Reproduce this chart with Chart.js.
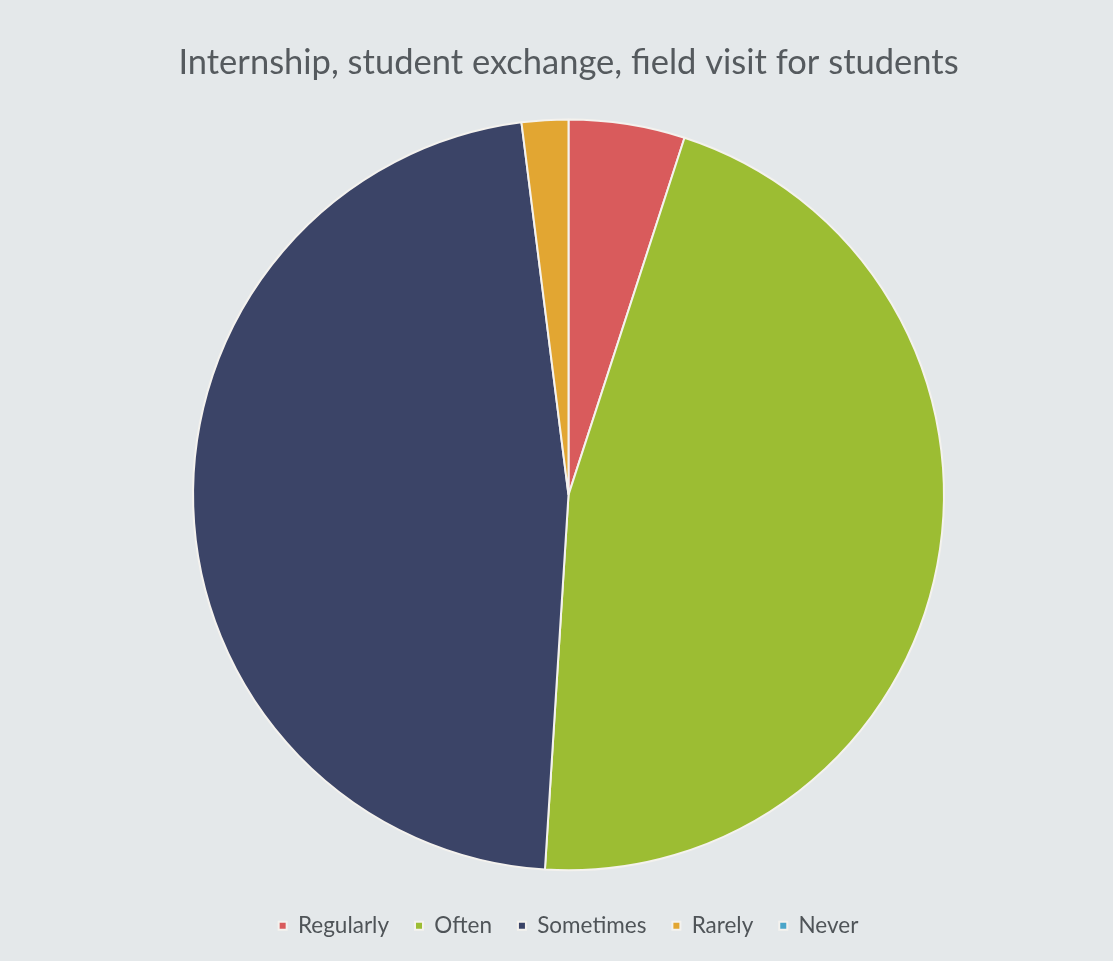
<!DOCTYPE html>
<html>
<head>
<meta charset="utf-8">
<script src="https://cdn.jsdelivr.net/npm/chart.js@4.4.0/dist/chart.umd.min.js"></script>
<style>
  html, body { margin: 0; padding: 0; background: #e4e8ea; }
  #wrap { width: 1113px; height: 961px; position: relative; }
</style>
</head>
<body>
<div id="wrap"><canvas id="pieChart"></canvas></div>
<script>
const categories = ['Regularly', 'Often', 'Sometimes', 'Rarely', 'Never'];
const values = [5, 46, 47, 2, 0];
const colors = ['#d95b5c', '#9cbd33', '#3b4467', '#e2a632', '#4ca6c9'];

const ctx = document.getElementById('pieChart').getContext('2d');
const pieChart = new Chart(ctx, {
  type: 'pie',
  data: {
    labels: categories,
    datasets: [{
      data: values,
      backgroundColor: colors,
      borderColor: '#f4f2ee',
      borderWidth: 2
    }]
  },
  options: {
    responsive: true,
    maintainAspectRatio: false,
    animation: false,
    layout: { padding: { left: 24, right: 0, top: 0, bottom: 14 } },
    plugins: {
      title: {
        display: true,
        text: 'Internship, student exchange, field visit for students',
        color: '#555a5e',
        font: { family: 'Lato', size: 34.5, weight: 'normal' },
        padding: { top: 42, bottom: 35 }
      },
      legend: {
        position: 'bottom',
        title: { display: true, text: ' ', font: { size: 1 }, padding: 8 },
        labels: {
          color: '#4f5458',
          font: { family: 'Lato', size: 22.5 },
          boxWidth: 8,
          boxHeight: 8,
          padding: 26
        }
      },
      tooltip: { enabled: false }
    }
  }
});
</script>
</body>
</html>
